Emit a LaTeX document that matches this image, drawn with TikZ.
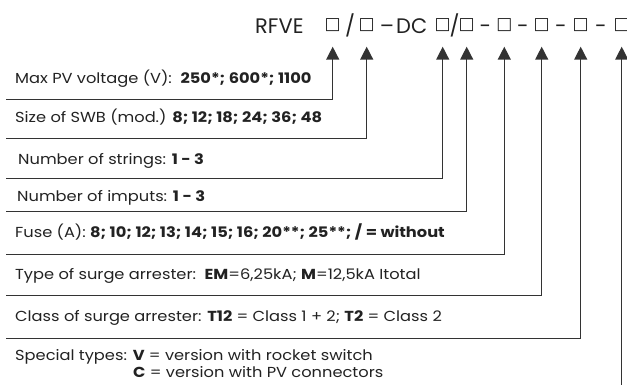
\documentclass[tikz,border=0pt]{standalone}
\usepackage{fontspec}
\setmainfont{Poppins}[FakeStretch=1.12]
\newfontfamily\hdrfont{Poppins}
\newfontfamily\symfont{DejaVu Sans}
\usetikzlibrary{arrows.meta}
\definecolor{ln}{HTML}{333333}
\definecolor{tx}{HTML}{222222}
\begin{document}
\begin{tikzpicture}[x=1pt,y=-1pt,
  lbl/.style={anchor=base west, inner sep=0, font=\fontsize{14.5}{17}\selectfont, text=tx},
  hdr/.style={anchor=base, inner sep=0, font=\hdrfont\fontsize{21}{25}\selectfont, text=tx},
  sqr/.style={anchor=center, inner sep=0, font=\symfont\fontsize{17}{19}\selectfont, text=tx},
  conn/.style={draw=ln, line width=1.4pt, -{Triangle[width=13pt,length=13pt]}, shorten >=21.4pt},
  ]
\useasboundingbox (0,0) rectangle (627,385);
% header
\node[hdr, anchor=base west] (rfve) at (255,33.3) {RFVE};
\node[sqr] (q1) at (332.7,25.3) {□};
\node[hdr] (sl1) at (350,33.3) {/};
\node[sqr] (q2) at (366.7,25.3) {□};
\node[hdr] (da1) at (387,33.3) {–};
\node[hdr, anchor=base west] (dc) at (396,33.3) {DC};
\node[sqr] (q3) at (442.7,25.3) {□};
\node[hdr] (sl2) at (454.7,33.3) {/};
\node[sqr] (q4) at (466.7,25.3) {□};
\node[hdr] (h1) at (485.5,33.3) {-};
\node[sqr] (q5) at (504.3,25.3) {□};
\node[hdr] (h2) at (523,33.3) {-};
\node[sqr] (q6) at (541.7,25.3) {□};
\node[hdr] (h3) at (561,33.3) {-};
\node[sqr] (q7) at (580.7,25.3) {□};
\node[hdr] (h4) at (601,33.3) {-};
\node[sqr] (q8) at (621.7,25.3) {□};
% rows
\node[lbl] (r1) at (15,84) {Max PV voltage (V):\ \ \textbf{250*; 600*; 1100}};
\node[lbl] (r2) at (15,123) {Size of SWB (mod.) \textbf{8; 12; 18; 24; 36; 48}};
\node[lbl] (r3) at (18,165) {Number of strings: \textbf{1 - 3}};
\node[lbl] (r4) at (17,202) {Number of imputs: \textbf{1 - 3}};
\node[lbl] (r5) at (15,237) {Fuse (A): \textbf{8; 10; 12; 13; 14; 15; 16; 20**; 25**; / = without}};
\node[lbl] (r6) at (15,279) {Type of surge arrester:\ \ \textbf{EM}=6,25kA; \textbf{M}=12,5kA Itotal};
\node[lbl] (r7) at (15,321) {Class of surge arrester: \textbf{T12} = Class 1 + 2; \textbf{T2} = Class 2};
\node[lbl] (r8) at (15,360) {Special types: \textbf{V} = version with rocket switch};
\node[lbl] (r8b) at (133,377) {\textbf{C} = version with PV connectors};
% line starts
\coordinate (s1) at (6,99.3);
\coordinate (s2) at (6,138.3);
\coordinate (s3) at (6,178.3);
\coordinate (s4) at (6,211.7);
\coordinate (s5) at (6,254.3);
\coordinate (s6) at (6,295.5);
\coordinate (s7) at (6,338.5);
\coordinate (s8) at (621.7,385);
\draw[conn] (s1) -| (q1.center);
\draw[conn] (s2) -| (q2.center);
\draw[conn] (s3) -| (q3.center);
\draw[conn] (s4) -| (q4.center);
\draw[conn] (s5) -| (q5.center);
\draw[conn] (s6) -| (q6.center);
\draw[conn] (s7) -| (q7.center);
\draw[conn] (s8) -- (q8.center);
\end{tikzpicture}
\end{document}
